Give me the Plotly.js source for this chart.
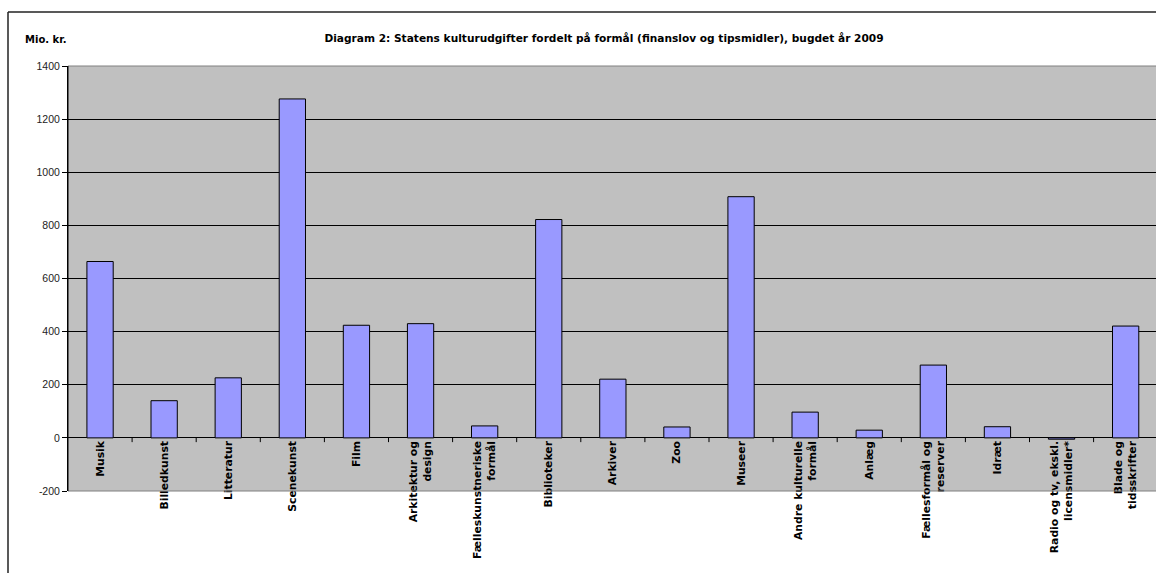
<!DOCTYPE html>
<html>
<head>
<meta charset="utf-8">
<script src="https://cdn.plot.ly/plotly-3.0.1.min.js"></script>
<style>
html,body{margin:0;padding:0;background:#fff;overflow:hidden;}
#chart{width:1156px;height:573px;}
</style>
</head>
<body>
<div id="chart"></div>
<script>
const categories = [
  "Musik", "Billedkunst", "Litteratur", "Scenekunst", "Film",
  "Arkitektur og<br>design", "Fælleskunstneriske<br>formål", "Biblioteker",
  "Arkiver", "Zoo", "Museer", "Andre kulturelle<br>formål", "Anlæg",
  "Fællesformål og<br>reserver", "Idræt", "Radio og tv, ekskl.<br>licensmidler*",
  "Blade og<br>tidsskrifter"
];
const values = [664, 140, 226, 1276, 424, 430, 45, 822, 221, 41, 908, 97, 29, 274, 42, -5, 421];
const titleText = "Diagram 2: Statens kulturudgifter fordelt på formål (finanslov og tipsmidler), bugdet år 2009";
const yUnit = "Mio. kr.";
const yTicks = [-200, 0, 200, 400, 600, 800, 1000, 1200, 1400];

const W = 1156, H = 573;
const L = 68, R = 0, T = 66, B = 82;
const pw = W - L - R, ph = H - T - B;

const trace = {
  type: 'bar',
  x: categories.map((c, i) => i),
  y: values,
  width: 0.41,
  marker: {color: '#9999FF', line: {color: '#000000', width: 1}},
  hoverinfo: 'none'
};

const layout = {
  width: W, height: H,
  margin: {l: L, r: R, t: T, b: B, pad: 0},
  paper_bgcolor: '#ffffff',
  plot_bgcolor: '#C0C0C0',
  showlegend: false,
  title: {
    text: titleText,
    xref: 'container', yref: 'container',
    x: 604 / W, y: 1 - 38 / H, xanchor: 'center', yanchor: 'middle',
    font: {family: 'DejaVu Sans', size: 10.6, color: '#000', weight: 'bold'}
  },
  xaxis: {
    type: 'linear',
    range: [-0.5, -0.5 + pw / 64.1],
    tickmode: 'array',
    tickvals: categories.map((c, i) => i),
    ticktext: categories,
    tickangle: -90,
    tickfont: {family: 'DejaVu Sans', size: 10.8, color: '#000', weight: 'bold'},
    showgrid: false,
    zeroline: false,
    showline: false,
    ticks: '',
    anchor: 'free',
    position: 200 / 1600,
    fixedrange: true
  },
  yaxis: {
    range: [-200, 1400],
    tickmode: 'array',
    tickvals: yTicks,
    ticktext: yTicks.map(String),
    tickfont: {family: 'Liberation Sans', size: 10.5, color: '#222'},
    showgrid: true,
    gridcolor: '#000000',
    gridwidth: 1,
    zeroline: true,
    zerolinecolor: '#000000',
    zerolinewidth: 1,
    showline: true,
    linecolor: '#000000',
    linewidth: 1,
    ticks: 'outside',
    ticklen: 5,
    tickcolor: '#000',
    fixedrange: true
  },
  shapes: [
    {type: 'line', xref: 'paper', yref: 'paper', x0: 0, x1: 1.5, y0: 1, y1: 1,
     line: {color: '#808080', width: 1}, layer: 'above'},
    {type: 'line', xref: 'paper', yref: 'paper', x0: 0, x1: 1.5, y0: 0, y1: 0,
     line: {color: '#808080', width: 1}, layer: 'above'},
    {type: 'line', xref: 'paper', yref: 'paper', x0: 0, x1: 0, y0: 0, y1: 1,
     line: {color: '#000', width: 1}, layer: 'above'},
    // outer chart frame (left and top edges visible)
    {type: 'line', xref: 'paper', yref: 'paper',
     x0: (8 - L) / pw, x1: (8 - L) / pw, y0: -0.5, y1: (H - B - 12) / ph,
     line: {color: '#222', width: 1.5}, layer: 'above'},
    {type: 'line', xref: 'paper', yref: 'paper',
     x0: (8 - L) / pw, x1: 1.5, y0: (H - B - 12) / ph, y1: (H - B - 12) / ph,
     line: {color: '#222', width: 1.5}, layer: 'above'}
  ],
  annotations: [
    {text: yUnit, xref: 'paper', yref: 'paper',
     x: (23 - L) / pw, y: (H - B - 39) / ph, xanchor: 'left', yanchor: 'middle',
     showarrow: false,
     font: {family: 'DejaVu Sans', size: 10, color: '#000', weight: 'bold'}}
  ]
};

// x ticks at category boundaries on the zero line
for (let i = 0; i < categories.length; i++) {
  layout.shapes.push({
    type: 'line', xref: 'x', yref: 'y',
    x0: i + 0.5, x1: i + 0.5, y0: 0, y1: -16,
    line: {color: '#000', width: 1}, layer: 'above'
  });
}

Plotly.newPlot('chart', [trace], layout, {staticPlot: true, displayModeBar: false});
</script>
</body>
</html>
